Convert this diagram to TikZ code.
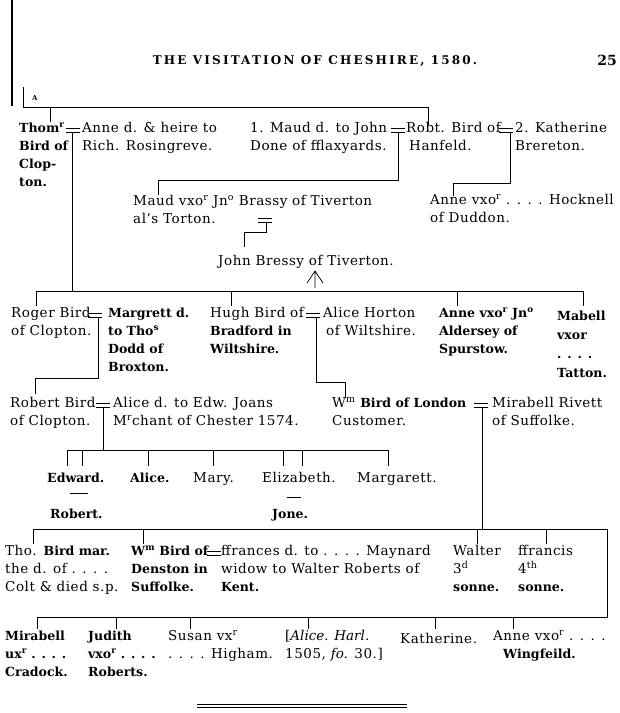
\documentclass[tikz,border=0pt]{standalone}
\usepackage{fontspec}
\setmainfont{DejaVu Serif}[UprightFeatures={LetterSpace=4},BoldFeatures={Scale=0.93}]
\newfontfamily\headfont[LetterSpace=18]{DejaVu Serif}
\tikzset{
  wed/.pic={\draw[line width=0.8pt] (-7,-2)--(7,-2) (-7,2)--(7,2);},
}
\begin{document}
\begin{tikzpicture}[x=1pt,y=-1pt,line cap=butt,
    person/.style={anchor=north west,inner sep=0pt,yshift=7.5pt,align=left,
      font=\fontsize{13.5}{18}\selectfont,execute at begin node=\strut},
    heavy/.style={person,font=\fontsize{13.5}{18}\selectfont\bfseries},
    tight/.style={person,font=\fontsize{13.5}{18}\selectfont\addfontfeatures{LetterSpace=0}},
    tie/.style={line width=0.7pt}]
\useasboundingbox (0,0) rectangle (620,713);
% running head
\node[anchor=base,inner sep=0pt] (head) at (315,64.5) {\headfont\bfseries\fontsize{12}{14}\selectfont THE VISITATION OF CHESHIRE, 1580.};
\node[anchor=base east,inner sep=0pt] (folio) at (617,65) {\bfseries\fontsize{15}{16}\selectfont 25};
\node[anchor=base west,inner sep=0pt] (lineA) at (32,100) {\bfseries\fontsize{7.5}{8}\selectfont A};
\coordinate (M1) at (12,0); \coordinate (M2) at (12,106);
\draw[line width=1.2pt] (M1)--(M2);
% descent from A
\coordinate (A1) at (23,87); \coordinate (A2) at (23,107);
\coordinate (A3) at (428,107); \coordinate (A4) at (428,125);
\coordinate (A5) at (50,107); \coordinate (A6) at (50,122);
\draw[tie] (A1)--(A2)--(A3)--(A4);
\draw[tie] (A5)--(A6);
% first generation
\node[heavy] (thom) at (19,130) {Thom\textsuperscript{r}\\Bird of\\Clop-\\ton.};
\node[person] (anne) at (82,130) {Anne d. \& heire to\\Rich. Rosingreve.};
\node[person] (maud) at (250,130) {1. Maud d. to John\\Done of fflaxyards.};
\node[tight] (robt) at (406,130) {Robt. Bird of\\\hspace{3pt}Hanfeld.};
\node[person] (kath) at (515,130) {2. Katherine\\Brereton.};
\pic at (73,130) {wed};
\pic at (398,130) {wed};
\pic at (506,130) {wed};
% issue of Robt.
\coordinate (R1) at (398,132); \coordinate (R2) at (398,180);
\coordinate (R3) at (158,180); \coordinate (R4) at (158,195);
\draw[tie] (R1)--(R2)--(R3)--(R4);
\coordinate (K1) at (510,132); \coordinate (K2) at (510,183);
\coordinate (K3) at (453,183); \coordinate (K4) at (453,196);
\draw[tie] (K1)--(K2)--(K3)--(K4);
\node[person] (maudb) at (133,203) {Maud vxo\textsuperscript{r} Jn\textsuperscript{o} Brassy of Tiverton\\al's Torton.};
\node[person] (anneh) at (430,202) {Anne vxo\textsuperscript{r} . . . . Hocknell\\of Duddon.};
\pic at (265,220) {wed};
\coordinate (B1) at (266,222); \coordinate (B2) at (266,232);
\coordinate (B3) at (244,232); \coordinate (B4) at (244,247);
\draw[tie] (B1)--(B2)--(B3)--(B4);
\node[person] (john) at (218,260) {John Bressy of Tiverton.};
\coordinate (I1) at (315,271); \coordinate (I2) at (315,288);
\coordinate (I3) at (307,283); \coordinate (I4) at (323,283);
\draw[tie] (I1)--(I2) (I3)--(I1)--(I4);
% issue of Thom.
\coordinate (T1) at (72,132); \coordinate (T2) at (72,291);
\coordinate (T3) at (36,291); \coordinate (T4) at (583,291);
\draw[tie] (T1)--(T2);
\draw[tie] (T3)--(T4);
\foreach \nm/\x in {roger/36,hugh/231,annea/457,mabell/583}{
  \coordinate (\nm-up) at (\x,291); \coordinate (\nm-dn) at (\x,306);
  \draw[tie] (\nm-up)--(\nm-dn);
}
\node[tight] (roger) at (11,315) {Roger Bird\\of Clopton.};
\node[heavy] (margrett) at (108,315) {Margrett d.\\to Tho\textsuperscript{s}\\Dodd of\\Broxton.};
\node[person] (hugh) at (210,315) {Hugh Bird of\\\textbf{Bradford in}\\\textbf{Wiltshire.}};
\node[person] (aliceh) at (323,315) {Alice Horton\\\hspace{3pt}of Wiltshire.};
\node[heavy] (annea) at (439,315) {Anne vxo\textsuperscript{r} Jn\textsuperscript{o}\\Aldersey of\\Spurstow.};
\node[heavy] (mabell) at (557,318) {Mabell\\[1pt]vxor\\[1pt]. . . .\\[1pt]Tatton.};
\pic at (95,315) {wed};
\pic at (313,315) {wed};
\coordinate (G1) at (98,317); \coordinate (G2) at (98,378);
\coordinate (G3) at (35,378); \coordinate (G4) at (35,394);
\draw[tie] (G1)--(G2)--(G3)--(G4);
\coordinate (H1) at (316,317); \coordinate (H2) at (316,382);
\coordinate (H3) at (345,382); \coordinate (H4) at (345,398);
\draw[tie] (H1)--(H2)--(H3)--(H4);
% third generation
\node[tight] (robert) at (10,405) {Robert Bird\\of Clopton.};
\node[person] (alicej) at (113,405) {Alice d. to Edw. Joans\\M\textsuperscript{r}chant of Chester 1574.};
\node[person] (wml) at (332,405) {W\textsuperscript{m} \textbf{Bird of London}\\Customer.};
\node[person] (mirabr) at (492,405) {Mirabell Rivett\\of Suffolke.};
\pic at (103,405) {wed};
\pic at (481,405) {wed};
\coordinate (E1) at (103,407); \coordinate (E2) at (103,450);
\coordinate (E3) at (67,450); \coordinate (E4) at (388,450);
\draw[tie] (E1)--(E2);
\draw[tie] (E3)--(E4);
\foreach \nm/\x in {edw/67,rob/82,ali/148,mar/213,eli/283,jon/302,mgt/388}{
  \coordinate (\nm-up) at (\x,450); \coordinate (\nm-dn) at (\x,466);
  \draw[tie] (\nm-up)--(\nm-dn);
}
\node[heavy] (edward) at (47,477) {Edward.};
\node[heavy] (alice) at (130,477) {Alice.};
\node[person] (mary) at (193,477) {Mary.};
\node[person] (eliz) at (262,477) {Elizabeth.};
\node[person] (marg) at (357,477) {Margarett.};
\coordinate (S1) at (70,493); \coordinate (S2) at (88,493);
\coordinate (S3) at (287,497); \coordinate (S4) at (301,497);
\draw[tie] (S1)--(S2) (S3)--(S4);
\node[heavy] (robt2) at (50,513) {Robert.};
\node[heavy] (jone) at (272,513) {Jone.};
% issue of Wm. Bird of London
\coordinate (L1) at (482,407); \coordinate (L2) at (482,529);
\coordinate (L3) at (33,529); \coordinate (L4) at (607,529);
\coordinate (L5) at (607,617); \coordinate (L6) at (37,617);
\draw[tie] (L1)--(L2);
\draw[tie] (L3)--(L4)--(L5)--(L6);
\foreach \nm/\x in {tho/33,wmd/143,wal/477,fra/546}{
  \coordinate (\nm-up) at (\x,529); \coordinate (\nm-dn) at (\x,544);
  \draw[tie] (\nm-up)--(\nm-dn);
}
\node[person] (tho) at (5,553) {Tho. \textbf{Bird mar.}\\the d. of . . . .\\Colt \& died s.p.};
\node[heavy] (wmd) at (131,553) {W\textsuperscript{m} Bird of\\Denston in\\Suffolke.};
\node[person] (ffrances) at (221,553) {ffrances d. to . . . . Maynard\\widow to Walter Roberts of\\\textbf{Kent.}};
\node[person] (walter) at (453,553) {Walter\\3\textsuperscript{d}\\\textbf{sonne.}};
\node[person] (ffrancis) at (518,553) {ffrancis\\4\textsuperscript{th}\\\textbf{sonne.}};
\pic at (214,553) {wed};
\foreach \nm/\x in {mir/37,jud/116,sus/190,har/308,kat/435,ann/513}{
  \coordinate (\nm-up) at (\x,617); \coordinate (\nm-dn) at (\x,629);
  \draw[tie] (\nm-up)--(\nm-dn);
}
\node[heavy] (mirab) at (5,638) {Mirabell\\ux\textsuperscript{r} . . . .\\Cradock.};
\node[heavy] (judith) at (88,638) {Judith\\vxo\textsuperscript{r} . . . .\\Roberts.};
\node[person] (susan) at (168,638) {Susan vx\textsuperscript{r}\\. . . . Higham.};
\node[person] (harl) at (285,638) {[\textit{Alice. Harl.}\\1505, \textit{fo.} 30.]};
\node[person] (kathb) at (400,638) {Katherine.};
\node[person] (annew) at (493,638) {Anne vxo\textsuperscript{r} . . . .\\\hspace{10pt}\textbf{Wingfeild.}};
% closing rule
\coordinate (Z1) at (197,704); \coordinate (Z2) at (407,704);
\coordinate (Z3) at (197,707.5); \coordinate (Z4) at (407,707.5);
\draw[line width=0.6pt] (Z1)--(Z2) (Z3)--(Z4);
\end{tikzpicture}
\end{document}
